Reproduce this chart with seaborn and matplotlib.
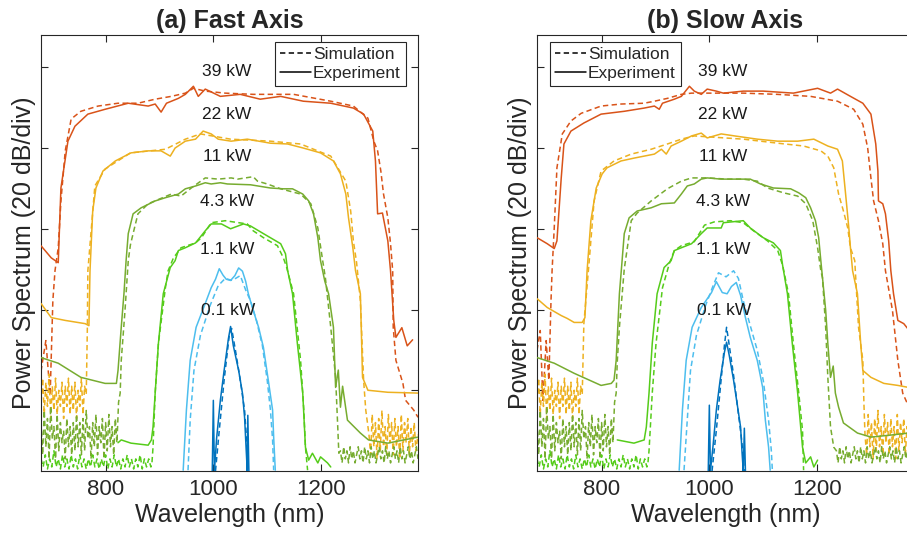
import pandas as pd
import matplotlib
matplotlib.use("Agg")
import matplotlib.pyplot as plt
from matplotlib.lines import Line2D
import seaborn as sns

# all curves: (wavelength nm, level dB above bottom of frame)

# noise floors of simulated spectra (shared by both panels)
yel_noise_left = [(680, 17), (683, 23), (686, 14), (689, 22), (692, 16), (695, 24), (698, 13), (701, 21),
                  (704, 15), (707, 23), (710, 14), (713, 20), (716, 16), (719, 22), (722, 13), (725, 21),
                  (728, 16), (731, 23), (734, 14), (737, 21), (740, 15), (743, 22), (746, 13), (749, 20),
                  (752, 16), (755, 23), (758, 14), (761, 21), (764, 19)]
yel_noise_right = [(1289, 9), (1292, 4), (1295, 14), (1298, 6), (1301, 12), (1304, 3), (1307, 13), (1310, 5),
                   (1313, 15), (1316, 6), (1319, 11), (1322, 4), (1325, 14), (1328, 7), (1331, 12), (1334, 4),
                   (1337, 13), (1340, 6), (1343, 11), (1346, 3), (1349, 14), (1352, 5), (1355, 12), (1358, 7),
                   (1361, 13), (1364, 4), (1367, 11), (1370, 6), (1373, 12), (1376, 5), (1380, 9)]
ol_noise_left = [(680, 12), (683, 4), (686, 15), (689, 6), (692, 13), (695, 3), (698, 16), (701, 8), (704, 11),
                 (707, 3), (710, 14), (713, 5), (716, 12), (719, 7), (722, 10), (725, 3), (728, 13), (731, 6),
                 (734, 11), (737, 4), (740, 12), (743, 5), (746, 14), (749, 6), (752, 12), (755, 4), (758, 13),
                 (761, 5), (764, 15), (767, 8), (770, 11), (773, 3), (776, 12), (779, 6), (782, 14), (785, 4),
                 (788, 11), (791, 7), (794, 13), (797, 3), (800, 12), (803, 5), (806, 14), (809, 6), (812, 11),
                 (815, 4), (818, 13), (821, 7), (824, 17)]
ol_noise_right = [(1236, 5), (1239, 2), (1242, 6), (1245, 3), (1248, 5), (1251, 2), (1254, 6), (1257, 3),
                  (1260, 5), (1263, 2), (1266, 4), (1269, 6), (1272, 3), (1275, 5), (1278, 2), (1281, 6),
                  (1284, 3), (1287, 5), (1290, 2), (1293, 6), (1296, 3), (1299, 5), (1302, 2), (1305, 4),
                  (1308, 6), (1311, 3), (1314, 5), (1317, 2), (1320, 6), (1323, 3), (1326, 5), (1329, 2),
                  (1332, 4), (1335, 6), (1338, 3), (1341, 5), (1344, 2), (1347, 6), (1350, 3), (1353, 5),
                  (1356, 2), (1359, 4), (1362, 6), (1365, 3), (1368, 5), (1371, 2), (1374, 4), (1377, 6), (1380, 3)]
grn_noise_left = [(680, 3), (684, 1), (688, 4), (692, 0.5), (696, 3), (700, 1), (704, 5), (708, 1), (712, 3),
                  (716, 0.5), (720, 4), (724, 1), (728, 3), (732, 0.5), (736, 4), (740, 1), (744, 3), (748, 0.5),
                  (752, 4), (756, 1), (760, 3), (764, 0.5), (768, 3), (772, 1), (776, 4), (780, 1), (784, 3),
                  (788, 0.5), (792, 3), (796, 1), (800, 4), (804, 0.5), (808, 3), (812, 1), (816, 4), (820, 1),
                  (824, 3), (828, 0.5), (832, 3), (836, 1), (840, 4), (844, 1), (848, 3), (852, 0.5), (856, 3),
                  (860, 1), (864, 4), (868, 0.5), (872, 3), (876, 1), (880, 3), (884, 1)]

# ---- (a) fast axis ----
a_red_exp = [(680, 55.8), (699, 52.8), (712, 51.6), (717, 70.1), (730, 81.7), (743, 85.4), (767, 88.4), (799, 89.6),
             (842, 91.1), (879, 90.4), (892, 90.9), (903, 88.9), (913, 91.1), (935, 92.3), (948, 93.3), (963, 95.3),
             (972, 92.8), (985, 94.6), (1013, 92.8), (1050, 93.3), (1087, 92.1), (1125, 92.8), (1167, 91.6),
             (1218, 91.1), (1260, 89.9), (1279, 88.4), (1296, 84.2), (1301, 76.8), (1305, 63.7), (1314, 63.9),
             (1324, 57.0), (1329, 49.6), (1335, 37.3), (1339, 33.1), (1350, 35.5), (1360, 31.0), (1370, 32.5)]
a_red_sim = [(680, 24.7), (689, 32.3), (697, 18.8), (702, 42.2), (706, 49.6), (712, 55.3), (717, 66.9), (725, 79.3),
             (736, 87.2), (754, 89.1), (786, 90.4), (823, 91.1), (860, 91.1), (892, 92.1), (922, 92.8), (948, 93.6),
             (963, 94.8), (985, 94.1), (1022, 93.6), (1074, 93.3), (1149, 93.3), (1218, 91.6), (1260, 90.4),
             (1287, 87.4), (1298, 81.7), (1305, 79.3), (1311, 74.3), (1316, 68.6), (1324, 62.7), (1329, 56.3),
             (1333, 49.6), (1334, 35.6), (1339, 27.4), (1352, 21.7), (1357, 17.5), (1372, 15.1), (1380, 13.3)]
a_yel_exp = [(680, 41.5), (699, 38.0), (725, 37.3), (762, 36.5), (769, 36.0), (771, 49.6), (776, 64.4), (782, 70.1),
             (795, 74.3), (818, 76.8), (847, 78.8), (879, 79.3), (903, 79.3), (920, 78.0), (929, 80.0), (948, 81.7),
             (967, 82.2), (981, 84.2), (996, 83.5), (1009, 82.2), (1033, 81.7), (1063, 82.2), (1106, 81.2),
             (1138, 81.0), (1167, 80.0), (1199, 78.8), (1223, 76.8), (1236, 73.6), (1246, 68.6), (1251, 62.7),
             (1259, 55.3), (1264, 49.6), (1273, 43.9), (1277, 23.2), (1287, 20.0), (1324, 19.5), (1380, 19.3)]
a_yel_sim = [(766, 34.8), (767, 49.6), (780, 70.6), (799, 74.8), (846, 78.8), (911, 79.7), (948, 82.2), (976, 83.5),
             (1032, 82.2), (1106, 81.7), (1162, 81.0), (1218, 78.0), (1246, 71.8), (1255, 64.4), (1260, 57.0),
             (1266, 51.6), (1273, 42.2), (1279, 22.5), (1283, 15.1)]
a_ol_exp = [(680, 28.1), (712, 26.7), (754, 23.2), (799, 21.7), (820, 21.7), (823, 24.9), (829, 35.6), (834, 43.9),
            (838, 52.1), (842, 58.8), (851, 63.7), (866, 65.2), (892, 66.9), (911, 67.7), (935, 68.6), (948, 69.9),
            (967, 70.6), (985, 71.4), (996, 71.1), (1013, 71.4), (1026, 71.1), (1069, 70.9), (1106, 70.1),
            (1130, 69.9), (1147, 69.9), (1166, 68.6), (1177, 66.9), (1186, 63.7), (1194, 57.8), (1199, 52.1),
            (1207, 47.0), (1214, 43.9), (1223, 35.6), (1227, 20.7), (1232, 25.0), (1236, 15.8), (1240, 21.0),
            (1249, 12.6), (1273, 9.4), (1288, 7.7), (1324, 6.9), (1380, 8.4)]
a_ol_sim = [(827, 19.3), (829, 27.4), (836, 39.8), (842, 52.1), (846, 56.0), (851, 58.8), (860, 63.7), (879, 66.2),
            (922, 68.6), (940, 68.1), (959, 70.1), (985, 72.6), (1009, 72.3), (1033, 72.6), (1045, 72.3),
            (1074, 72.9), (1082, 71.8), (1100, 71.1), (1125, 69.9), (1162, 68.6), (1181, 66.2), (1194, 60.2),
            (1203, 52.1), (1208, 47.9), (1218, 35.6), (1227, 23.2), (1231, 10.9), (1233, 4.4)]
a_grn_exp = [(823, 7.0), (829, 7.7), (847, 6.9), (879, 6.4), (885, 7.7), (888, 10.9), (892, 19.3), (898, 31.6),
             (907, 43.9), (920, 50.4), (929, 52.1), (935, 54.6), (948, 55.3), (967, 56.5), (985, 59.5), (996, 61.2),
             (1015, 61.2), (1032, 60.0), (1056, 61.2), (1069, 60.7), (1093, 58.8), (1125, 56.3), (1134, 53.8),
             (1138, 49.6), (1147, 43.9), (1156, 31.6), (1166, 19.3), (1171, 5.9), (1177, 2.7), (1184, 4.4),
             (1194, 2.0), (1199, 3.5), (1212, 2.0), (1218, 1.0)]
a_grn_sim = [(886, 2.0), (888, 5.9), (892, 19.3), (898, 31.6), (911, 45.4), (916, 49.6), (926, 52.8), (940, 55.3),
             (967, 56.5), (978, 57.8), (996, 61.5), (1022, 62.0), (1037, 61.7), (1063, 61.2), (1074, 59.5),
             (1093, 57.8), (1119, 55.8), (1130, 52.8), (1136, 50.5), (1149, 43.9), (1162, 27.4), (1168, 15.1),
             (1171, 5.9), (1175, 0.2)]
a_lb_exp = [(944, 0.2), (950, 15.1), (957, 27.4), (968, 35.6), (985, 41.5), (996, 45.4), (1004, 47.5), (1011, 50.1),
            (1018, 48.5), (1024, 47.5), (1032, 47.2), (1040, 48.4), (1047, 50.3), (1054, 49.5), (1060, 47.0),
            (1065, 43.9), (1074, 39.8), (1084, 35.6), (1093, 30.6), (1102, 22.5), (1110, 15.1), (1112, 8.4),
            (1115, 0.2)]
a_lb_sim = [(953, 0.2), (957, 12.6), (964, 24.9), (976, 33.6), (994, 41.0), (1009, 45.9), (1022, 47.7), (1035, 47.2),
            (1050, 48.4), (1061, 44.5), (1069, 42.2), (1080, 37.3), (1091, 31.1), (1100, 22.5), (1106, 15.1),
            (1110, 7.7), (1112, 0.2)]
a_db_exp = [(998, 0), (1000, 17.5), (1002, 0), (1006, 8.0), (1013, 17.5), (1020, 24.9), (1028, 32.8), (1032, 35.8),
            (1037, 31.1), (1047, 24.9), (1054, 19.3), (1058, 13.3), (1061, 5.2), (1063, 0), (1064, 13.8), (1066, 0)]
a_db_sim = [(1004, 0), (1011, 10.1), (1020, 22.5), (1030, 34.1), (1034, 35.3), (1041, 29.9), (1050, 22.5),
            (1058, 15.1), (1063, 5.2), (1065, 0)]

# ---- (b) slow axis ----
b_red_exp = [(680, 57.8), (699, 56.3), (712, 55.1), (717, 57.0), (725, 72.6), (730, 81.0), (743, 84.2), (767, 86.2),
             (799, 88.4), (842, 89.1), (879, 89.9), (898, 90.4), (907, 89.6), (913, 91.1), (935, 92.1), (948, 92.8),
             (963, 95.3), (972, 94.1), (985, 93.3), (996, 94.6), (1013, 94.1), (1026, 93.6), (1063, 94.1),
             (1100, 94.1), (1156, 93.6), (1201, 94.8), (1225, 93.6), (1238, 94.6), (1262, 92.8), (1285, 91.1),
             (1300, 88.4), (1309, 81.0), (1313, 74.3), (1314, 66.9), (1322, 66.2), (1327, 63.7), (1333, 57.0),
             (1337, 49.6), (1342, 43.9), (1350, 37.3), (1361, 36.5), (1370, 35.0)]
b_red_sim = [(680, 29.9), (686, 34.8), (691, 17.5), (697, 32.3), (702, 22.5), (706, 42.2), (708, 49.6), (712, 60.2),
             (717, 75.1), (727, 83.5), (743, 86.7), (762, 88.6), (799, 90.4), (836, 90.9), (879, 91.1), (898, 91.6),
             (922, 92.3), (948, 93.3), (967, 93.6), (1007, 93.6), (1063, 93.6), (1126, 93.3), (1188, 92.8),
             (1238, 91.6), (1268, 89.6), (1285, 85.9), (1294, 80.0), (1300, 72.6), (1305, 66.9), (1314, 62.0),
             (1322, 56.3), (1327, 49.6), (1340, 39.8), (1350, 27.4), (1359, 19.3), (1370, 16.0)]
b_yel_exp = [(680, 42.7), (699, 40.5), (725, 38.5), (736, 37.8), (749, 36.8), (764, 36.8), (769, 38.0), (773, 49.6),
             (780, 62.0), (790, 70.1), (801, 73.6), (810, 75.1), (836, 76.8), (860, 77.5), (898, 78.5), (911, 79.7),
             (920, 78.5), (929, 80.5), (948, 81.7), (967, 83.0), (985, 83.7), (996, 82.5), (1022, 83.5),
             (1047, 83.0), (1089, 82.2), (1127, 81.7), (1164, 81.7), (1194, 82.2), (1220, 80.5), (1238, 79.7),
             (1247, 76.8), (1253, 68.6), (1259, 60.2), (1262, 55.3), (1266, 49.6), (1275, 43.9), (1281, 31.6),
             (1285, 24.9), (1300, 23.2), (1324, 21.7), (1350, 21.2), (1370, 20.7)]
b_yel_sim = [(767, 36.5), (777, 52.1), (786, 66.9), (799, 74.3), (823, 76.8), (855, 78.5), (892, 79.7), (922, 81.0),
             (948, 82.2), (972, 83.0), (1063, 82.2), (1127, 81.2), (1175, 80.5), (1207, 79.3), (1220, 78.0),
             (1231, 75.1), (1240, 68.6), (1249, 64.4), (1257, 60.2), (1262, 55.3), (1270, 52.1), (1277, 35.6),
             (1285, 27.4), (1287, 16.8)]
b_ol_exp = [(680, 28.1), (712, 26.7), (749, 24.2), (799, 21.2), (818, 21.7), (823, 22.5), (827, 27.4), (833, 43.9),
            (838, 52.1), (842, 58.8), (851, 62.7), (866, 64.4), (892, 65.2), (911, 66.2), (935, 66.4), (948, 68.6),
            (959, 70.6), (972, 71.1), (985, 72.3), (996, 72.6), (1022, 72.3), (1039, 72.3), (1076, 72.3),
            (1095, 71.1), (1119, 70.1), (1151, 69.9), (1166, 68.9), (1179, 67.7), (1188, 65.2), (1197, 62.0),
            (1203, 57.8), (1207, 52.1), (1216, 39.8), (1220, 31.6), (1225, 23.2), (1230, 26.0), (1234, 19.3),
            (1240, 15.8), (1249, 11.9), (1275, 9.4), (1300, 8.4), (1337, 8.9), (1370, 9.4)]
b_ol_sim = [(827, 19.3), (829, 27.0), (833, 35.6), (842, 50.0), (855, 62.0), (866, 63.9), (892, 66.9), (922, 69.9),
            (948, 71.8), (967, 72.6), (996, 72.6), (1033, 72.3), (1063, 72.3), (1089, 71.8), (1108, 70.1),
            (1138, 68.9), (1164, 68.1), (1179, 66.2), (1192, 62.0), (1201, 55.3), (1207, 49.6), (1210, 47.9),
            (1216, 35.6), (1220, 23.2), (1225, 10.9), (1231, 5.9)]
b_grn_exp = [(829, 7.7), (860, 6.9), (879, 7.7), (883, 10.9), (888, 19.3), (894, 31.6), (903, 43.9), (916, 50.4),
             (929, 52.1), (935, 54.6), (948, 55.3), (967, 56.3), (985, 58.8), (996, 60.2), (1022, 60.2), (1026, 61.5),
             (1063, 62.0), (1076, 60.2), (1100, 57.8), (1119, 56.5), (1132, 54.6), (1136, 51.0), (1145, 43.9),
             (1154, 31.6), (1164, 19.3), (1173, 5.9), (1179, 2.0), (1188, 3.5), (1194, 1.0), (1201, 2.7)]
b_grn_sim = [(886, 2.0), (888, 5.0), (894, 19.3), (901, 31.6), (913, 45.4), (926, 51.5), (935, 54.6), (948, 55.8),
             (972, 56.8), (991, 60.9), (1009, 61.7), (1039, 62.0), (1063, 61.5), (1082, 59.5), (1108, 57.0),
             (1127, 54.6), (1136, 51.0), (1147, 43.9), (1156, 31.6), (1166, 19.3), (1173, 10.1), (1175, 0.2)]
b_lb_exp = [(944, 0.2), (950, 15.1), (957, 27.4), (968, 35.6), (985, 40.5), (1004, 44.2), (1013, 46.9), (1024, 44.2),
            (1033, 43.9), (1041, 45.7), (1050, 46.7), (1058, 43.5), (1067, 38.0), (1076, 33.1), (1089, 27.4),
            (1099, 20.7), (1104, 12.6), (1110, 5.9), (1113, 0.2)]
b_lb_sim = [(953, 0.2), (959, 12.6), (965, 24.9), (976, 33.6), (993, 41.0), (1007, 45.9), (1017, 49.1), (1031, 48.1),
            (1045, 49.6), (1054, 47.7), (1063, 42.2), (1076, 36.0), (1089, 29.9), (1100, 22.5), (1110, 12.6),
            (1115, 5.2), (1117, 0.2)]
b_db_exp = [(998, 0), (1000, 16.3), (1002, 0), (1007, 6.4), (1013, 15.1), (1020, 22.5), (1028, 29.4), (1032, 31.9),
            (1037, 28.6), (1045, 22.5), (1052, 16.3), (1058, 10.9), (1061, 4.0), (1063, 0), (1065, 10.6), (1067, 0)]
b_db_sim = [(1005, 0), (1013, 10.1), (1020, 20.0), (1028, 31.1), (1032, 35.6), (1037, 31.1), (1045, 23.7),
            (1052, 16.3), (1060, 7.7), (1065, 0)]

power_labels = ['39 kW', '22 kW', '11 kW', '4.3 kW', '1.1 kW', '0.1 kW']
label_levels = [99.0, 88.4, 77.8, 66.7, 54.8, 39.8]
label_nm = [1025, 1025, 1025, 1025, 1025, 1028]
xticks = [800, 1000, 1200]

RED, YEL, OLV, GRN, LBL, DBL = '#D95319', '#EDB120', '#77AC30', '#55CC1A', '#4DBEEE', '#0072BD'
DASH = (0, (3.5, 2.2))

sns.set_style('ticks')
plt.rcParams['font.family'] = ['Liberation Sans', 'DejaVu Sans']

fig = plt.figure(figsize=(9.07, 5.38), dpi=100)
W, H = 907, 538
ax_a = fig.add_axes([41 / W, 67 / H, 377 / W, 436 / H])
ax_b = fig.add_axes([537 / W, 67 / H, 377 / W, 436 / H])


def draw(ax, pts, color, ls, z):
    df = pd.DataFrame(pts, columns=['nm', 'dB'])
    sns.lineplot(data=df, x='nm', y='dB', ax=ax, color=color, linestyle=ls, lw=1.1,
                 sort=False, estimator=None, legend=False, zorder=z)


panels = [
    (ax_a, '(a) Fast Axis',
     [(a_red_sim, RED), (yel_noise_left + a_yel_sim + yel_noise_right, YEL),
      (ol_noise_left + a_ol_sim + ol_noise_right, OLV), (grn_noise_left + a_grn_sim, GRN),
      (a_lb_sim, LBL), (a_db_sim, DBL)],
     [(a_red_exp, RED), (a_yel_exp, YEL), (a_ol_exp, OLV), (a_grn_exp, GRN), (a_lb_exp, LBL), (a_db_exp, DBL)],
     'upper right', (0.968, 0.984)),
    (ax_b, '(b) Slow Axis',
     [(b_red_sim, RED), (yel_noise_left + b_yel_sim + yel_noise_right, YEL),
      (ol_noise_left + b_ol_sim + ol_noise_right, OLV), (grn_noise_left + b_grn_sim, GRN),
      (b_lb_sim, LBL), (b_db_sim, DBL)],
     [(b_red_exp, RED), (b_yel_exp, YEL), (b_ol_exp, OLV), (b_grn_exp, GRN), (b_lb_exp, LBL), (b_db_exp, DBL)],
     'upper left', (0.034, 0.984)),
]

for ax, title, sims, exps, loc, anchor in panels:
    for pts, c in sims:
        draw(ax, pts, c, DASH, 2)
    for pts, c in exps:
        draw(ax, pts, c, '-', 3)

    for txt, lvl, nm in zip(power_labels, label_levels, label_nm):
        ax.text(nm, lvl, txt, ha='center', va='center', fontsize=12.5, color='#1a1a1a', zorder=5)

    ax.set_xlim(680, 1380)
    ax.set_ylim(0, 108)
    ax.set_xticks(xticks)
    ax.set_yticks([20, 40, 60, 80, 100])
    ax.set_yticklabels([])
    ax.tick_params(direction='in', length=5, width=0.8, top=True, right=True,
                   labelsize=16, colors='#262626', pad=6)
    for sp in ax.spines.values():
        sp.set_color('#262626')
        sp.set_linewidth(0.8)
    ax.set_title(title, fontsize=18, fontweight='bold', pad=5)
    ax.set_xlabel('Wavelength (nm)', fontsize=18, color='#262626', labelpad=2)
    ax.set_ylabel('Power Spectrum (20 dB/div)', fontsize=18, color='#262626')
    ax.yaxis.set_label_coords(-0.012, 0.5)

    handles = [Line2D([], [], color='black', linestyle=DASH, lw=1.1),
               Line2D([], [], color='black', linestyle='-', lw=1.1)]
    leg = ax.legend(handles, ['Simulation', 'Experiment'], loc=loc, bbox_to_anchor=anchor,
                    borderaxespad=0, fontsize=12.5, handlelength=1.8, handletextpad=0.1,
                    borderpad=0.3, labelspacing=0.2, fancybox=False, framealpha=1)
    leg.get_frame().set_edgecolor('#262626')
    leg.get_frame().set_linewidth(0.8)
    leg.set_zorder(6)

fig.savefig('out.png', dpi=100)
